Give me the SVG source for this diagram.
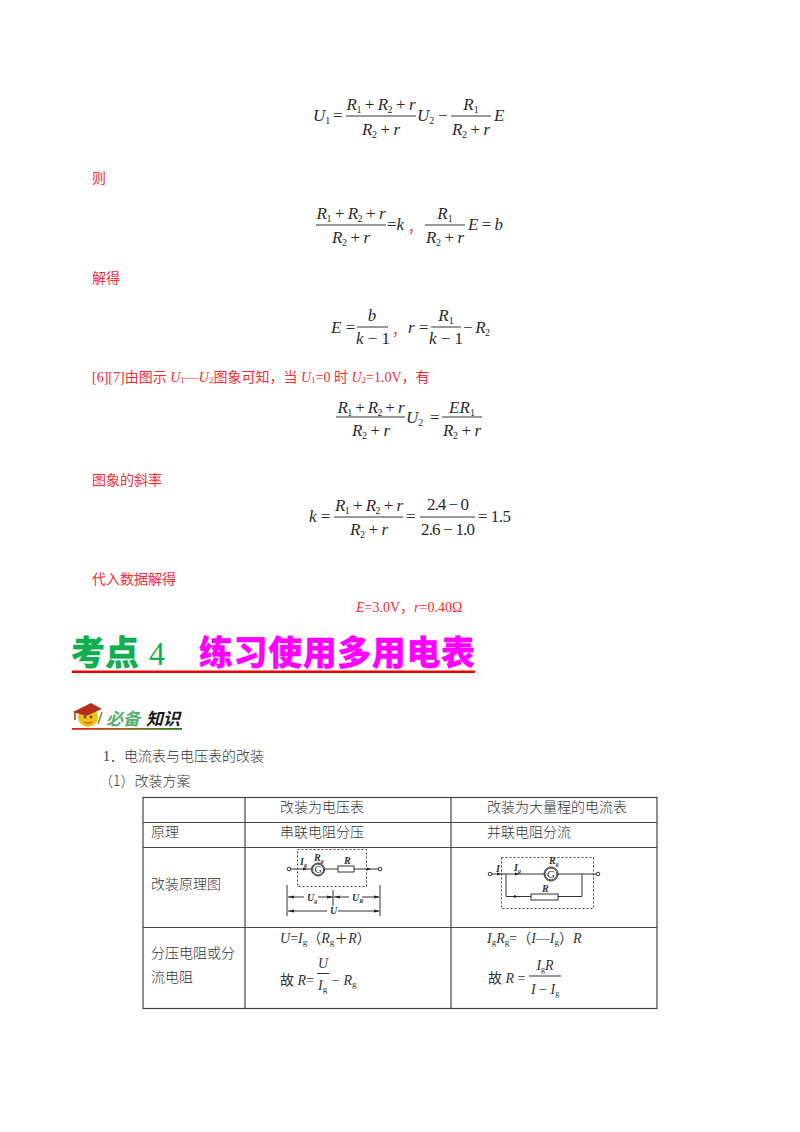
<svg xmlns="http://www.w3.org/2000/svg" width="800" height="1132" viewBox="0 0 800 1132">
<defs>
<linearGradient id="rg" x1="0" x2="1" y1="0" y2="0"><stop offset="0" stop-color="#e02020"/><stop offset="0.5" stop-color="#a06020"/><stop offset="1" stop-color="#1f7a30"/></linearGradient>
</defs>
<style>
text{font-family:"Liberation Serif","Noto Sans CJK SC",serif;white-space:pre}
.e{font-size:17px;fill:#2a2a2a}
.i{font-style:italic}
.n{font-style:normal}
.c{text-anchor:middle}
.s{font-size:10px;font-style:normal}
.red{font-size:14px;fill:#f52c35}
.b{font-size:14px;fill:#333}
.t{font-size:14px;fill:#333;font-family:"Noto Sans CJK SC",sans-serif;font-weight:300}
.l{stroke:#333;stroke-width:1;fill:none}
.g{stroke:#444;stroke-width:1.2;fill:none}
.ci{font-size:10px;font-style:italic;font-weight:bold;fill:#333}
.k{font-size:6px}
.h{font-family:"Noto Sans CJK SC",sans-serif;font-weight:900;font-size:34px;stroke-width:.3}
</style>
<rect width="800" height="1132" fill="#fff"/>

<g id="eq1">
<text class="e i" x="313" y="121">U<tspan class="s" dy="3">1</tspan></text>
<text class="e" x="333" y="121">=</text>
<text class="e i c" x="381" y="110" textLength="69">R<tspan class="s" dy="3">1</tspan><tspan class="n" dy="-3"> + </tspan>R<tspan class="s" dy="3">2</tspan><tspan class="n" dy="-3"> + </tspan>r</text>
<line class="l" x1="346" y1="116" x2="416" y2="116"/>
<text class="e i c" x="381" y="135" textLength="38">R<tspan class="s" dy="3">2</tspan><tspan class="n" dy="-3"> + </tspan>r</text>
<text class="e i" x="417" y="121">U<tspan class="s" dy="3">2</tspan></text>
<text class="e" x="438" y="121">−</text>
<text class="e i c" x="471" y="110">R<tspan class="s" dy="3">1</tspan></text>
<line class="l" x1="451" y1="116" x2="491" y2="116"/>
<text class="e i c" x="471" y="135" textLength="38">R<tspan class="s" dy="3">2</tspan><tspan class="n" dy="-3"> + </tspan>r</text>
<text class="e i" x="494" y="121">E</text>
</g>
<text class="red" x="92" y="183">则</text>

<g id="eq2">
<text class="e i c" x="351" y="219" textLength="69">R<tspan class="s" dy="3">1</tspan><tspan class="n" dy="-3"> + </tspan>R<tspan class="s" dy="3">2</tspan><tspan class="n" dy="-3"> + </tspan>r</text>
<line class="l" x1="316" y1="225" x2="386" y2="225"/>
<text class="e i c" x="351" y="243" textLength="38">R<tspan class="s" dy="3">2</tspan><tspan class="n" dy="-3"> + </tspan>r</text>
<text class="e" x="387" y="230">=<tspan class="i">k</tspan></text>
<text class="red" x="408" y="232">，</text>
<text class="e i c" x="445" y="219">R<tspan class="s" dy="3">1</tspan></text>
<line class="l" x1="425" y1="225" x2="465" y2="225"/>
<text class="e i c" x="445" y="243" textLength="38">R<tspan class="s" dy="3">2</tspan><tspan class="n" dy="-3"> + </tspan>r</text>
<text class="e i" x="468" y="230" textLength="35">E<tspan class="n"> = </tspan>b</text>
</g>
<text class="red" x="92" y="283">解得</text>

<g id="eq3">
<text class="e i" x="331" y="333">E<tspan class="n"> =</tspan></text>
<text class="e i c" x="372" y="321">b</text>
<line class="l" x1="357" y1="327" x2="388" y2="327"/>
<text class="e c" x="373" y="344"><tspan class="i">k</tspan> − 1</text>
<text class="red" x="392" y="335">，</text>
<text class="e i" x="408" y="333">r<tspan class="n"> =</tspan></text>
<text class="e i c" x="446" y="321">R<tspan class="s" dy="3">1</tspan></text>
<line class="l" x1="431" y1="327" x2="461" y2="327"/>
<text class="e c" x="446" y="344"><tspan class="i">k</tspan> − 1</text>
<text class="e" x="463" y="333" textLength="27">− <tspan class="i">R</tspan><tspan class="s" dy="3">2</tspan></text>
</g>

<text class="red" x="92" y="382">[6][7]由图示 <tspan class="i">U</tspan><tspan font-size="9" dy="1">1</tspan><tspan dy="-1">—</tspan><tspan class="i">U</tspan><tspan font-size="9" dy="1">2</tspan><tspan dy="-1">图象可知，当 </tspan><tspan class="i">U</tspan><tspan font-size="9" dy="1">1</tspan><tspan dy="-1">=0 时 </tspan><tspan class="i">U</tspan><tspan font-size="9" dy="1">2</tspan><tspan dy="-1">=1.0V，有</tspan></text>

<g id="eq4">
<text class="e i c" x="371" y="413" textLength="67">R<tspan class="s" dy="3">1</tspan><tspan class="n" dy="-3"> + </tspan>R<tspan class="s" dy="3">2</tspan><tspan class="n" dy="-3"> + </tspan>r</text>
<line class="l" x1="336" y1="417" x2="405" y2="417"/>
<text class="e i c" x="371" y="436" textLength="38">R<tspan class="s" dy="3">2</tspan><tspan class="n" dy="-3"> + </tspan>r</text>
<text class="e i" x="406" y="423">U<tspan class="s" dy="3">2</tspan></text>
<text class="e" x="430" y="423">=</text>
<text class="e i c" x="462" y="413">ER<tspan class="s" dy="3">1</tspan></text>
<line class="l" x1="442" y1="417" x2="482" y2="417"/>
<text class="e i c" x="462" y="436" textLength="38">R<tspan class="s" dy="3">2</tspan><tspan class="n" dy="-3"> + </tspan>r</text>
</g>
<text class="red" x="92" y="485">图象的斜率</text>

<g id="eq5">
<text class="e i" x="309" y="522">k<tspan class="n"> =</tspan></text>
<text class="e i c" x="369" y="511" textLength="68">R<tspan class="s" dy="3">1</tspan><tspan class="n" dy="-3"> + </tspan>R<tspan class="s" dy="3">2</tspan><tspan class="n" dy="-3"> + </tspan>r</text>
<line class="l" x1="334" y1="517" x2="403" y2="517"/>
<text class="e i c" x="369" y="535" textLength="38">R<tspan class="s" dy="3">2</tspan><tspan class="n" dy="-3"> + </tspan>r</text>
<text class="e" x="406" y="522">=</text>
<text class="e c" x="448" y="510" textLength="42">2.4 − 0</text>
<line class="l" x1="420" y1="517" x2="475" y2="517"/>
<text class="e c" x="448" y="535" textLength="54">2.6 − 1.0</text>
<text class="e" x="478" y="522" textLength="33">= 1.5</text>
</g>
<text class="red" x="92" y="584">代入数据解得</text>
<text class="red" x="356" y="612"><tspan class="i">E</tspan>=3.0V，<tspan class="i">r</tspan>=0.40Ω</text>

<g id="heading">
<text class="h" x="71" y="665" fill="#12ad4e" stroke="#12ad4e">考点</text>
<text x="149" y="665" font-size="34" fill="#12ad4e" style="font-family:'Liberation Serif',serif" textLength="16" lengthAdjust="spacingAndGlyphs">4</text>
<text class="h" x="199" y="665" fill="#ff00ff" stroke="#ff00ff" textLength="276">练习使用多用电表</text>
<rect x="72" y="670.500" width="403" height="2.500" fill="#f00000"/>
</g>

<g id="badge">
<circle cx="88" cy="717" r="10" fill="#f2c010"/>
<path d="M73 712L91 703L102 709L86 716z" fill="#b5301a"/>
<path d="M75 712L75 720" stroke="#b5301a" stroke-width="1.500"/>
<circle cx="85" cy="717" r="1.200" fill="#333"/><circle cx="91" cy="717" r="1.200" fill="#333"/>
<path d="M84 722Q88 725 92 722" stroke="#a33" fill="none"/>
<path d="M98 724L102 712" stroke="#a07a20" stroke-width="1.500"/>
<text x="106" y="725" font-size="17" font-style="italic" font-weight="700" fill="#58b070" style="font-family:'Noto Sans CJK SC',sans-serif">必备</text>
<text x="146" y="725" font-size="17" font-style="italic" font-weight="700" fill="#1a1a1a" style="font-family:'Noto Sans CJK SC',sans-serif">知识</text>
<rect x="72" y="728" width="110" height="1.800" fill="url(#rg)"/>
</g>

<text class="t" x="103" y="761" style="font-family:'Liberation Serif','Noto Sans CJK SC',serif">1．电流表与电压表的改装</text>
<text class="t" x="99" y="786">（1）改装方案</text>

<g id="table">
<rect class="g" x="143" y="797.500" width="514" height="211"/>
<path class="g" d="M143 822.500H657M143 847.500H657M143 927.500H657M245 797.500V1008.500M451 797.500V1008.500"/>
<text class="t" x="280" y="812">改装为电压表</text>
<text class="t" x="487" y="812">改装为大量程的电流表</text>
<text class="t" x="151" y="837">原理</text>
<text class="t" x="280" y="837">串联电阻分压</text>
<text class="t" x="487" y="837">并联电阻分流</text>
<text class="t" x="151" y="889">改装原理图</text>
<text class="t" x="151" y="958">分压电阻或分</text>
<text class="t" x="151" y="982">流电阻</text>
</g>

<g id="circuit1">
<rect x="297.500" y="849.500" width="69" height="37" fill="none" stroke="#444" stroke-dasharray="2 2"/>
<path class="l" d="M291 869H312.500M323.500 869H338M354 869H378"/>
<circle cx="289" cy="869" r="1.800" class="l"/><circle cx="380" cy="869" r="1.800" class="l"/>
<circle cx="318" cy="869.500" r="5.500" class="l"/>
<circle cx="318" cy="869.500" r="6.500" class="l" stroke-width=".6"/>
<text x="318" y="873" font-size="10" class="c" fill="#333">G</text>
<rect class="l" x="338" y="866" width="16" height="6"/>
<path d="M303 867.500L307 869L303 870.500zM367 867.500L371 869L367 870.500z" fill="#222"/>
<text class="ci" x="300" y="865">I<tspan class="k" dy="2">g</tspan></text>
<text class="ci" x="314" y="861">R<tspan class="k" dy="2">g</tspan></text>
<text class="ci" x="344" y="864">R</text>
<path class="l" d="M287 885V916M333 890V906M380 885V916"/>
<path class="l" d="M288 897H304M318 897H333M334 897H349M362 897H379M288 911H327M338 911H379"/>
<path d="M288 897L294 895.500V898.500zM333 897L327 895.500V898.500zM334 897L340 895.500V898.500zM380 897L374 895.500V898.500zM288 911L294 909.500V912.500zM380 911L374 909.500V912.500z" fill="#222"/>
<text class="ci" x="307" y="901">U<tspan class="k" dy="2">g</tspan></text>
<text class="ci" x="352" y="901">U<tspan class="k" dy="2">R</tspan></text>
<text class="ci" x="330" y="914">U</text>
</g>

<g id="circuit2">
<rect x="501.500" y="857.500" width="92" height="51" fill="none" stroke="#444" stroke-dasharray="2 2"/>
<path class="l" d="M492 874H545M557 874H596M506 874V896.500H531M558 896.500H582V874"/>
<circle cx="490" cy="874" r="1.800" class="l"/><circle cx="598" cy="874" r="1.800" class="l"/>
<circle cx="551" cy="874" r="6" class="l"/>
<circle cx="551" cy="874" r="7" class="l" stroke-width=".6"/>
<text x="551" y="878" font-size="11" class="c" fill="#333">G</text>
<rect class="l" x="531" y="894" width="27" height="6"/>
<path d="M497 872.500L501 874L497 875.500zM515 872.500L519 874L515 875.500zM514 895L518 896.500L514 898z" fill="#222"/>
<text class="ci" x="496" y="872">I</text>
<text class="ci" x="514" y="871">I<tspan class="k" dy="2">g</tspan></text>
<text class="ci" x="549" y="864">R<tspan class="k" dy="2">g</tspan></text>
<text class="ci" x="542" y="892">R</text>
</g>

<g id="formula1">
<text class="b" x="280" y="943"><tspan class="i">U</tspan>=<tspan class="i">I</tspan><tspan font-size="9" dy="2">g</tspan><tspan dy="-2">（</tspan><tspan class="i">R</tspan><tspan font-size="9" dy="2">g</tspan><tspan dy="-2">＋</tspan><tspan class="i">R</tspan>）</text>
<text class="b" x="280" y="985">故 <tspan class="i">R</tspan>=</text>
<text class="b i c" x="323" y="968" font-size="15">U</text>
<line class="l" x1="317" y1="973.500" x2="329" y2="973.500"/>
<text class="b i" x="318" y="990">I<tspan font-size="9" dy="2" class="n">g</tspan></text>
<text class="b" x="332" y="985">− <tspan class="i">R</tspan><tspan font-size="9" dy="2">g</tspan></text>
</g>

<g id="formula2">
<text class="b" x="487" y="943"><tspan class="i">I</tspan><tspan font-size="9" dy="2">g</tspan><tspan class="i" dy="-2">R</tspan><tspan font-size="9" dy="2">g</tspan><tspan dy="-2">=（</tspan><tspan class="i">I</tspan>—<tspan class="i">I</tspan><tspan font-size="9" dy="2">g</tspan><tspan dy="-2">）</tspan><tspan class="i">R</tspan></text>
<text class="b" x="488" y="983">故 <tspan class="i">R</tspan> =</text>
<text class="b i c" x="545" y="970"><tspan>I</tspan><tspan font-size="8" dy="2" class="n">g</tspan><tspan dy="-2">R</tspan></text>
<line class="l" x1="529" y1="976" x2="561" y2="976"/>
<text class="b i c" x="545" y="994">I<tspan class="n"> − </tspan>I<tspan font-size="8" dy="2" class="n">g</tspan></text>
</g>
</svg>
